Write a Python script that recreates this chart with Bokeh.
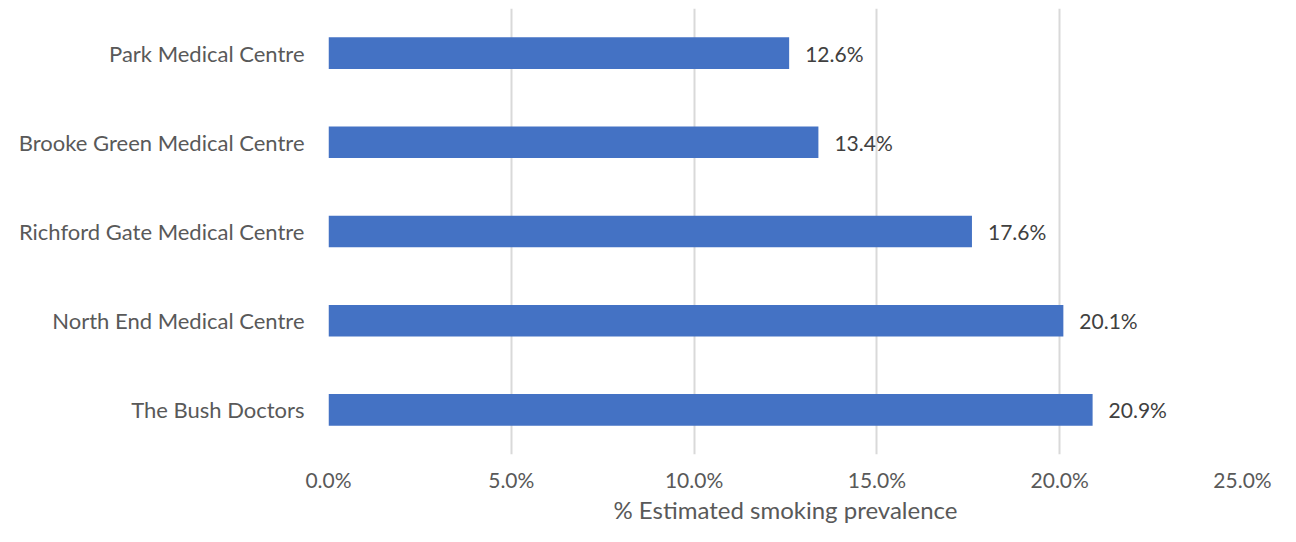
from bokeh.plotting import figure
from bokeh.models import ColumnDataSource, FactorRange, Range1d, LabelSet, NumeralTickFormatter, FixedTicker
from bokeh.core.properties import value
from bokeh.embed import file_html
from bokeh.resources import INLINE

practices = ["Park Medical Centre", "Brooke Green Medical Centre", "Richford Gate Medical Centre",
             "North End Medical Centre", "The Bush Doctors"]
prevalence = [0.126, 0.134, 0.176, 0.201, 0.209]
labels = ["12.6%", "13.4%", "17.6%", "20.1%", "20.9%"]
x_ticks = [0.0, 0.05, 0.10, 0.15, 0.20, 0.25]

FONT = "Lato"
src = ColumnDataSource(dict(practice=practices, value=prevalence, label=labels))

p = figure(width=1280, height=526, output_backend="svg", toolbar_location=None,
           y_range=FactorRange(factors=practices[::-1], range_padding=0),
           x_range=Range1d(0, 0.25),
           min_border_left=328, min_border_right=38, min_border_top=8, min_border_bottom=66)
p.outline_line_color = None
p.hbar(y="practice", right="value", left=0, height=0.354, source=src, color="#4472c4", line_color=None)

p.add_layout(LabelSet(x="value", y="practice", text="label", source=src, x_offset=16,
                      text_baseline="middle", text_align="left", text_color="#404040",
                      text_font=value(FONT), text_font_size="21px"))

p.xaxis.ticker = FixedTicker(ticks=x_ticks)
p.xaxis.formatter = NumeralTickFormatter(format="0.0%")
p.xaxis.axis_label = "% Estimated smoking prevalence"
for ax in (p.xaxis[0], p.yaxis[0]):
    ax.axis_line_color = None
    ax.major_tick_line_color = None
    ax.minor_tick_line_color = None
    ax.major_tick_out = 0
    ax.major_tick_in = 0
    ax.minor_tick_out = 0
    ax.minor_tick_in = 0
    ax.major_label_text_font = FONT
    ax.major_label_text_color = "#595959"
p.xaxis.major_label_text_font_size = "21px"
p.yaxis.major_label_text_font_size = "22px"
p.xaxis.major_label_standoff = 12
p.xaxis.axis_label_text_font = FONT
p.xaxis.axis_label_text_font_size = "24px"
p.xaxis.axis_label_text_font_style = "normal"
p.xaxis.axis_label_text_color = "#595959"
p.xaxis.axis_label_standoff = 0
p.yaxis.major_label_standoff = 24

p.xgrid.grid_line_color = "#d9d9d9"
p.xgrid.grid_line_width = 2
p.ygrid.grid_line_color = None

open("out.html", "w").write(file_html(p, INLINE))
